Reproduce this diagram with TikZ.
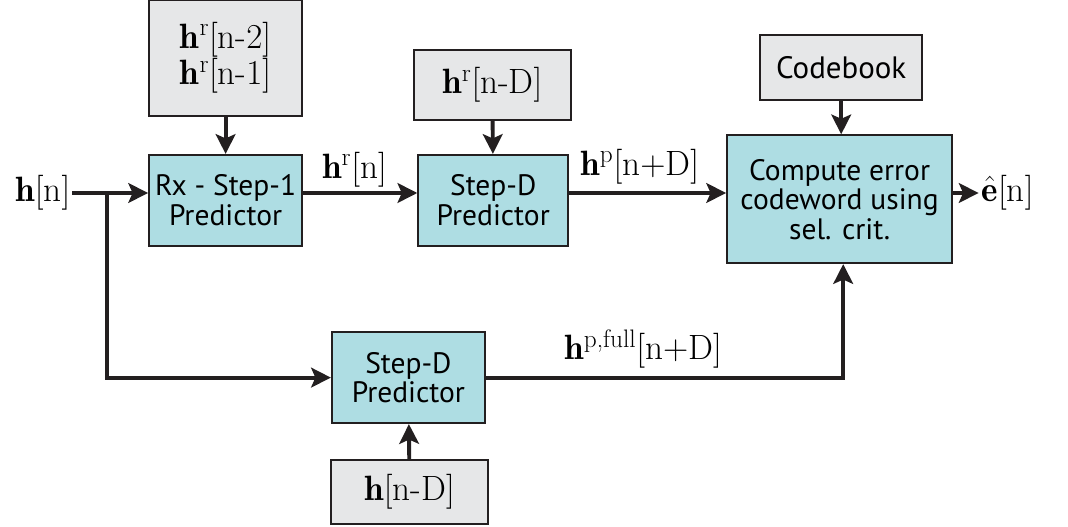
\documentclass[tikz,border=0pt]{standalone}
\usepackage{amsmath,amssymb}
\usepackage{fontspec}
\usepackage{xcolor}
\usepackage{tikz}
\usetikzlibrary{positioning,calc,arrows.meta}
\newfontfamily\boxfont{PT Sans}
\definecolor{predcyan}{RGB}{174,221,227}
\definecolor{inpgray}{RGB}{230,231,232}
\definecolor{lineblk}{RGB}{35,31,32}
\newcommand{\up}[1]{^{\mbox{\fontsize{18}{18}\selectfont #1}}}

\begin{document}
\begin{tikzpicture}[
    blk/.style={draw=lineblk, line width=1.3pt, rectangle, align=center, inner sep=2pt},
    pred/.style={blk, fill=predcyan, font=\boxfont\fontsize{21}{21}\selectfont},
    inp/.style={blk, fill=inpgray, font=\fontsize{25}{23}\selectfont},
    sig/.style={font=\fontsize{25}{26}\selectfont},
    flow/.style={draw=lineblk, line width=2.8pt, -{Stealth[length=14pt,width=14pt,inset=3pt]}},
    wire/.style={draw=lineblk, line width=2.8pt}]
    \useasboundingbox (0,0) rectangle (26.7,-13.175);
    \node[inp, minimum width=3.83cm, minimum height=2.9cm] (past) at (5.64,-1.45) {$\mathbf{h}\up{r}[\mathrm{n}\text{-}2]$\\$\mathbf{h}\up{r}[\mathrm{n}\text{-}1]$};
    \node[pred, minimum width=3.83cm, minimum height=2.28cm] (rx) at (5.64,-5.01) {Rx - Step-1\\Predictor};
    \node[inp, minimum width=3.93cm, minimum height=1.75cm] (hrd) at (12.31,-2.13) {$\mathbf{h}\up{r}[\mathrm{n}\text{-}\mathrm{D}]$};
    \node[pred, minimum width=3.75cm, minimum height=2.28cm] (stepa) at (12.33,-5.01) {Step-D\\Predictor};
    \node[inp, font=\boxfont\fontsize{22}{22}\selectfont, minimum width=4.05cm, minimum height=1.63cm] (cb) at (21.03,-1.69) {Codebook};
    \node[pred, minimum width=5.63cm, minimum height=3.2cm] (comp) at (20.99,-4.98) {Compute error\\codeword using\\sel. crit.};
    \node[pred, minimum width=3.83cm, minimum height=2.28cm] (stepb) at (10.21,-9.44) {Step-D\\Predictor};
    \node[inp, minimum width=3.93cm, minimum height=1.6cm] (hnd) at (10.24,-12.3) {$\mathbf{h}[\mathrm{n}\text{-}\mathrm{D}]$};

    \coordinate (lvl) at (0,-4.825);
    \node[sig, anchor=east, inner sep=1pt] (hn) at (1.8,-4.825) {$\mathbf{h}[\mathrm{n}]$};
    \node[sig, anchor=west, inner sep=1pt] (eh) at (24.5,-4.825) {$\hat{\mathbf{e}}[\mathrm{n}]$};
    \coordinate (split) at (2.68,-4.825);

    \draw[wire] (hn.east) -- (split);
    \draw[flow] (split) -- (rx.west |- lvl);
    \draw[flow] (split) |- (stepb.west);
    \draw[flow] (past) -- (rx);
    \draw[flow] (hrd) -- (stepa);
    \draw[flow] (cb.south) -- (cb.south |- comp.north);
    \draw[flow] (rx.east |- lvl) -- node[sig, above, pos=0.45, inner sep=3pt] {$\mathbf{h}\up{r}[\mathrm{n}]$} (stepa.west |- lvl);
    \draw[flow] (stepa.east |- lvl) -- node[sig, above, pos=0.45, inner sep=5pt] {$\mathbf{h}\up{p}[\mathrm{n}{+}\mathrm{D}]$} (comp.west |- lvl);
    \draw[flow] (stepb.east) -| node[sig, above, pos=0.22, inner sep=5pt] {$\mathbf{h}\up{p,full}[\mathrm{n}{+}\mathrm{D}]$} ([xshift=0.09cm]comp.south);
    \draw[flow] (comp.east |- lvl) -- ([xshift=-1pt]eh.west);
    \draw[flow] (hnd) -- (stepb);
\end{tikzpicture}
\end{document}
